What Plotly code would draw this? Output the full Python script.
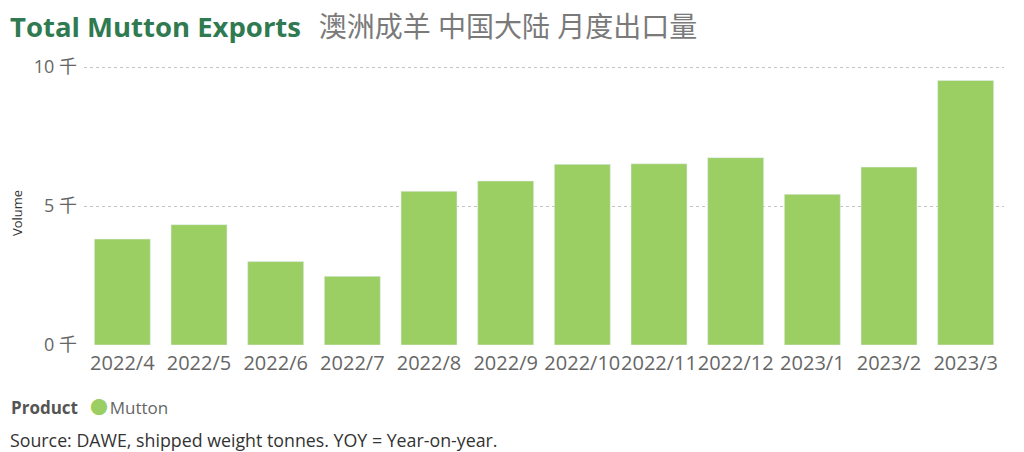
import plotly.graph_objects as go

months = ["2022/4", "2022/5", "2022/6", "2022/7", "2022/8", "2022/9",
          "2022/10", "2022/11", "2022/12", "2023/1", "2023/2", "2023/3"]
mutton = [3810, 4330, 3000, 2470, 5530, 5900, 6500, 6520, 6740, 5420, 6400, 9520]
y_tickvals = [0, 5000, 10000]
y_ticktext = ["0 千", "5 千", "10 千"]

BAR = "#9CCF63"
FONT = "Open Sans, Noto Sans, Noto Sans CJK SC, sans-serif"

OFF = 8  # default page body margin
W, H = 1024 - OFF, 452 - OFF
# plot area in reference pixels: x 84..1004, y 64..345 (10k at y=67)
L, R, T, B = 84 - OFF, 1024 - 1004, 64 - OFF, 452 - 345
PW, PH = W - L - R, H - T - B


def px(x):
    return (x - OFF - L) / PW


def py(y):
    return (H - B - (y - OFF)) / PH


fig = go.Figure()
fig.add_trace(go.Bar(x=months, y=mutton, marker_color=BAR, name="Mutton",
                     showlegend=False))

fig.update_layout(
    width=W, height=H,
    margin=dict(l=L, r=R, t=T, b=B, autoexpand=False),
    paper_bgcolor="white", plot_bgcolor="white",
    font=dict(family=FONT, color="#555"),
    bargap=0.27,
    showlegend=False,
    title=dict(
        text=("<b><span style='color:#2F7A50;font-size:27.5px'>Total Mutton Exports</span></b>"
              "&nbsp;&nbsp;&nbsp;&nbsp;<span style='color:#7a7a7a;font-size:28px'>澳洲成羊 中国大陆 月度出口量</span>"),
        x=(10 - OFF) / W, xanchor="left", y=1 - (31 - OFF) / H, yanchor="middle",
        font=dict(family=FONT)),
    xaxis=dict(tickfont=dict(size=20, color="#666"), showgrid=False,
               showline=False, ticks="", ticklabelstandoff=4, tickangle=0),
    yaxis=dict(range=[0, 10110], tickvals=y_tickvals, ticktext=y_ticktext,
               tickfont=dict(size=18, color="#666"), showgrid=True,
               gridcolor="#c4c4c4", griddash="dot", gridwidth=1,
               zeroline=False, ticks="", ticklabelstandoff=6),
    annotations=[
        dict(text="Volume", textangle=-90, xref="paper", yref="paper",
             x=px(17), y=py(213), xanchor="center", yanchor="middle",
             showarrow=False, font=dict(size=13, color="#333")),
        dict(text="<b>Product</b>", xref="paper", yref="paper",
             x=px(9), y=py(407), xanchor="left", yanchor="middle",
             showarrow=False, font=dict(size=17, color="#555")),
        dict(text=f"<span style='color:{BAR};font-size:18px'>●</span>&#8202;Mutton",
             xref="paper", yref="paper",
             x=px(88), y=py(407), xanchor="left", yanchor="middle",
             showarrow=False, font=dict(size=17, color="#666")),
        dict(text="Source: DAWE, shipped weight tonnes. YOY = Year-on-year.",
             xref="paper", yref="paper", x=px(8), y=py(440),
             xanchor="left", yanchor="middle", showarrow=False,
             font=dict(size=17.8, color="#333")),
    ],
)

fig.write_html("out.html")
